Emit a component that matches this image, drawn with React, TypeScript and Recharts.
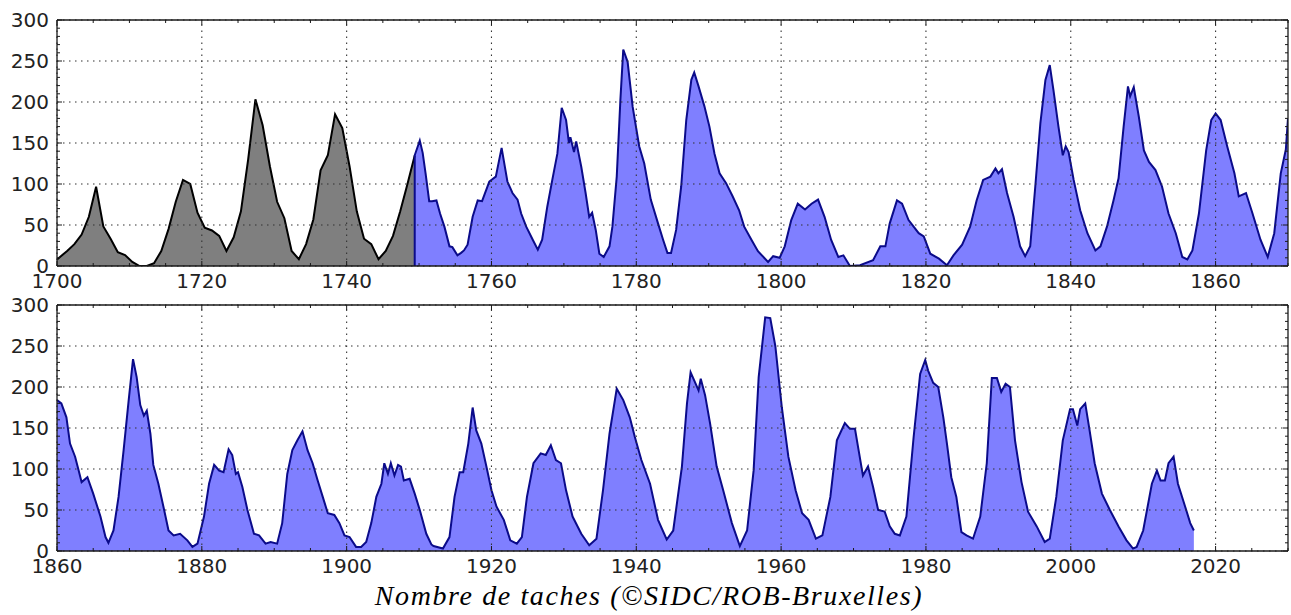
import { AreaChart, Area, XAxis, YAxis, ReferenceLine } from "recharts";

type Pt = [number, number];

// yearly means 1700-1749 (grey part), plotted mid-year like the source
const yearlyMeans: Pt[] = [
  [1700, 8], [1701.4, 18.3], [1702.4, 26.7], [1703.4, 38.3], [1704.4, 60], [1705.4, 96.7],
  [1706.4, 48.3], [1707.4, 33.3], [1708.4, 16.7], [1709.4, 13.3], [1710.4, 5], [1711.4, 0],
  [1712.4, 0], [1713.4, 3.3], [1714.4, 18.3], [1715.4, 45], [1716.4, 78.3], [1717.4, 105],
  [1718.4, 100], [1719.4, 65], [1720.4, 46.7], [1721.4, 43.3], [1722.4, 36.7], [1723.4, 18.3],
  [1724.4, 35], [1725.4, 66.7], [1726.4, 130], [1727.4, 203.3], [1728.4, 171.7], [1729.4, 121.7],
  [1730.4, 78.3], [1731.4, 58.3], [1732.4, 18.3], [1733.4, 8.3], [1734.4, 26.7], [1735.4, 56.7],
  [1736.4, 116.7], [1737.4, 135], [1738.4, 185], [1739.4, 168.3], [1740.4, 121.7], [1741.4, 66.7],
  [1742.4, 33.3], [1743.4, 26.7], [1744.4, 8.3], [1745.4, 18.3], [1746.4, 36.7], [1747.4, 66.7],
  [1748.4, 100], [1749.4, 134.8],
];

// smoothed monthly values, upper panel (1749-1870)
const smoothedTop: Pt[] = [
  [1749.4, 0], [1749.4, 135], [1750.1, 153], [1750.5, 138], [1750.9, 113], [1751.4, 79],
  [1751.8, 79], [1752.4, 80], [1752.9, 64], [1753.5, 48], [1754.2, 24], [1754.6, 23],
  [1755.3, 13], [1755.8, 16], [1756.2, 19], [1756.7, 26], [1757.4, 60], [1758.1, 80],
  [1758.7, 79], [1759.7, 103], [1760.6, 109], [1761.4, 144], [1762.2, 103], [1762.9, 89],
  [1763.6, 81], [1764.1, 64], [1764.8, 48], [1765.7, 32], [1766.4, 20], [1767.0, 32],
  [1767.7, 72], [1768.4, 105], [1769.1, 137], [1769.7, 193], [1770.3, 178], [1770.7, 150],
  [1770.9, 157], [1771.4, 139], [1771.7, 152], [1772.4, 121], [1773.0, 89], [1773.5, 60],
  [1773.9, 65], [1774.4, 44], [1774.9, 15], [1775.5, 11], [1776.3, 24], [1776.7, 48],
  [1777.3, 109], [1777.8, 202], [1778.2, 264], [1778.8, 249], [1779.5, 194], [1780.4, 146],
  [1781.1, 125], [1782.0, 81], [1783.0, 52], [1783.7, 32], [1784.3, 16], [1784.8, 16],
  [1785.5, 44], [1786.2, 97], [1786.9, 178], [1787.6, 227], [1788.0, 236], [1788.6, 219],
  [1789.4, 195], [1790.1, 170], [1790.8, 137], [1791.5, 113], [1792.4, 101], [1793.3, 85],
  [1794.2, 68], [1794.9, 48], [1795.9, 32], [1796.8, 18], [1798.2, 5], [1798.9, 12],
  [1799.8, 10], [1800.5, 24], [1801.4, 56], [1802.3, 76], [1803.3, 69], [1804.2, 76],
  [1805.1, 81], [1806.0, 60], [1806.9, 32], [1807.9, 11], [1808.6, 13], [1809.5, 0],
  [1810.9, 1], [1812.7, 7], [1813.7, 24], [1814.4, 24], [1815.0, 52], [1816.0, 80],
  [1816.7, 76], [1817.6, 56], [1819.0, 40], [1819.7, 36], [1820.6, 15], [1821.8, 9],
  [1822.9, 1], [1823.8, 13], [1825.0, 26], [1826.1, 48], [1827.0, 80], [1827.9, 105],
  [1828.9, 109], [1829.6, 119], [1830.0, 113], [1830.5, 118], [1831.2, 89], [1832.1, 60],
  [1833.0, 24], [1833.7, 12], [1834.4, 24], [1835.1, 97], [1835.8, 174], [1836.5, 227],
  [1837.1, 245], [1837.6, 215], [1838.3, 170], [1838.9, 135], [1839.3, 146], [1839.7, 139],
  [1840.4, 105], [1841.3, 68], [1842.3, 40], [1843.4, 19], [1844.1, 24], [1845.0, 48],
  [1845.9, 80], [1846.6, 107], [1847.3, 170], [1847.9, 219], [1848.2, 207], [1848.7, 218],
  [1849.4, 182], [1850.1, 141], [1850.8, 127], [1851.7, 117], [1852.6, 97], [1853.5, 64],
  [1854.5, 40], [1855.4, 11], [1856.1, 8], [1856.8, 19], [1857.7, 64], [1858.7, 141],
  [1859.4, 178], [1860.0, 186], [1860.7, 178], [1861.6, 146], [1862.6, 113], [1863.2, 85],
  [1864.2, 89], [1865.1, 64], [1866.2, 32], [1867.2, 11], [1868.1, 40], [1869.0, 113],
  [1869.7, 142], [1870.0, 180],
];

// smoothed monthly values, lower panel (1860-2017)
const smoothedBottom: Pt[] = [
  [1860.0, 184], [1860.6, 180], [1861.3, 163], [1861.8, 131], [1862.5, 115], [1863.0, 98],
  [1863.4, 84], [1864.2, 90], [1865.0, 70], [1866.0, 42], [1866.7, 17], [1867.1, 10],
  [1867.8, 25], [1868.5, 66], [1869.2, 123], [1869.9, 184], [1870.5, 234], [1871.0, 212],
  [1871.5, 178], [1872.0, 165], [1872.4, 171], [1872.9, 143], [1873.3, 105], [1874.0, 82],
  [1874.7, 54], [1875.4, 25], [1876.1, 19], [1877.0, 21], [1878.0, 13], [1878.7, 5],
  [1879.4, 9], [1880.3, 42], [1881.0, 82], [1881.7, 105], [1882.4, 98], [1883.0, 96],
  [1883.7, 124], [1884.2, 117], [1884.7, 94], [1885.0, 96], [1885.6, 78], [1886.3, 50],
  [1887.2, 21], [1887.9, 19], [1888.8, 9], [1889.5, 11], [1890.4, 9], [1891.1, 34],
  [1891.8, 94], [1892.5, 123], [1893.2, 135], [1893.9, 146], [1894.6, 123], [1895.3, 107],
  [1896.0, 86], [1896.7, 66], [1897.4, 46], [1898.3, 44], [1899.0, 34], [1899.7, 19],
  [1900.4, 17], [1901.3, 5], [1902.0, 5], [1902.7, 11], [1903.4, 34], [1904.1, 66],
  [1904.8, 82], [1905.2, 107], [1905.7, 94], [1906.1, 107], [1906.6, 92], [1907.1, 105],
  [1907.5, 103], [1907.9, 86], [1908.7, 88], [1909.4, 70], [1910.1, 50], [1911.0, 21],
  [1911.7, 8], [1912.0, 6], [1913.3, 3], [1914.2, 17], [1914.9, 66], [1915.6, 96],
  [1916.1, 96], [1916.8, 131], [1917.4, 175], [1917.9, 147], [1918.6, 131], [1919.3, 103],
  [1920.0, 74], [1920.7, 54], [1921.7, 38], [1922.6, 13], [1923.5, 9], [1924.2, 17],
  [1924.9, 66], [1925.8, 107], [1926.8, 119], [1927.5, 117], [1928.2, 129], [1928.9, 111],
  [1929.6, 107], [1930.3, 74], [1931.2, 42], [1932.4, 21], [1933.5, 7], [1934.5, 15],
  [1935.4, 74], [1936.3, 143], [1937.3, 198], [1938.2, 184], [1939.1, 163], [1939.8, 139],
  [1940.7, 111], [1941.9, 82], [1943.0, 38], [1944.2, 14], [1945.1, 25], [1946.3, 103],
  [1947.0, 180], [1947.5, 218], [1948.1, 206], [1948.6, 196], [1948.9, 210], [1949.5, 190],
  [1950.2, 155], [1951.1, 103], [1952.0, 74], [1953.2, 34], [1954.3, 6], [1955.3, 25],
  [1956.2, 98], [1956.9, 212], [1957.8, 285], [1958.5, 284], [1959.2, 250], [1960.1, 175],
  [1961.0, 115], [1962.0, 74], [1962.9, 46], [1963.8, 38], [1964.8, 15], [1965.7, 19],
  [1966.8, 66], [1967.7, 135], [1968.8, 156], [1969.5, 149], [1970.2, 149], [1970.7, 123],
  [1971.3, 92], [1972.0, 103], [1972.7, 78], [1973.4, 50], [1974.3, 48], [1975.0, 30],
  [1975.7, 21], [1976.4, 19], [1977.3, 42], [1978.3, 139], [1979.2, 216], [1979.9, 233],
  [1980.3, 220], [1981.0, 205], [1981.7, 200], [1982.4, 163], [1982.9, 131], [1983.5, 90],
  [1984.2, 66], [1984.9, 23], [1985.6, 19], [1986.5, 15], [1987.5, 42], [1988.4, 107],
  [1989.1, 211], [1989.8, 211], [1990.4, 194], [1991.0, 204], [1991.6, 200], [1992.3, 135],
  [1993.2, 84], [1994.1, 48], [1995.3, 30], [1996.4, 11], [1997.1, 15], [1998.0, 66],
  [1998.9, 135], [1999.9, 173], [2000.3, 173], [2000.9, 153], [2001.3, 173], [2002.0, 180],
  [2002.6, 147], [2003.3, 107], [2004.3, 70], [2005.4, 50], [2006.6, 30], [2007.7, 13],
  [2008.6, 3], [2009.1, 5], [2010.0, 25], [2011.2, 82], [2011.9, 98], [2012.4, 86],
  [2013.0, 86], [2013.5, 107], [2014.2, 115], [2014.8, 82], [2015.8, 54], [2016.5, 34],
  [2017.0, 25],
];

const topYearTicks = [1700, 1720, 1740, 1760, 1780, 1800, 1820, 1840, 1860];
const bottomYearTicks = [1860, 1880, 1900, 1920, 1940, 1960, 1980, 2000, 2020];
const valueTicks = [0, 50, 100, 150, 200, 250, 300];
const caption = "Nombre de taches (©SIDC/ROB-Bruxelles)";

const W = 1291;
const PLOT_W = 1231;
const PLOT_H = 246;
const INK = "#1a1a1a";
const BLUE_LINE = "#0b0b8a";
const GRID = { stroke: "#333", strokeDasharray: "1.5 4.5", strokeWidth: 1.1 };

const range = (a: number, b: number, step: number) => {
  const out: number[] = [];
  for (let v = a; v <= b; v += step) out.push(v);
  return out;
};

const toRows = (pts: Pt[]) => pts.map(([x, v]) => ({ x, v }));

const labelFont = { fontSize: 20, fill: "#222", fontFamily: "DejaVu Sans" };
const spine = { stroke: INK, strokeWidth: 1.3 };

// every 5 years: inward tick on bottom + top spine, label on 20-year marks
const yearTick = (p: any) => {
  const v = p.payload.value;
  const major = v % 20 === 0;
  const len = major ? 5 : 3;
  const base = p.y - 8;
  return (
    <g>
      <line x1={p.x} x2={p.x} y1={base} y2={base - len} stroke={INK} />
      <line x1={p.x} x2={p.x} y1={base - PLOT_H} y2={base - PLOT_H + len} stroke={INK} />
      {major ? (
        <text x={p.x} y={p.y} dy="0.71em" textAnchor="middle" {...labelFont}>
          {v}
        </text>
      ) : null}
    </g>
  );
};

// every 10 units: inward tick on left + right spine, label on 50 marks
const valueTick = (p: any) => {
  const v = p.payload.value;
  const major = v % 50 === 0;
  const len = major ? 5 : 3;
  const base = p.x + 8;
  return (
    <g>
      <line x1={base} x2={base + len} y1={p.y} y2={p.y} stroke={INK} />
      <line x1={base + PLOT_W} x2={base + PLOT_W - len} y1={p.y} y2={p.y} stroke={INK} />
      {major ? (
        <text x={p.x} y={p.y} dy="0.355em" textAnchor="end" {...labelFont}>
          {v}
        </text>
      ) : null}
    </g>
  );
};

type SeriesDef = { pts: Pt[]; stroke: string; fill: string; width: number };

function Panel({
  from,
  to,
  yearTicks,
  series,
  top,
}: {
  from: number;
  to: number;
  yearTicks: number[];
  series: SeriesDef[];
  top: number;
}) {
  return (
    <div style={{ position: "absolute", left: 0, top }}>
      <AreaChart width={W} height={300} margin={{ top: 20, right: 3, bottom: 0, left: 0 }}>
        {yearTicks.map((y) => (
          <ReferenceLine key={"gx" + y} x={y} {...GRID} />
        ))}
        {valueTicks.map((v) => (
          <ReferenceLine key={"gy" + v} y={v} {...GRID} />
        ))}
        <XAxis
          dataKey="x"
          type="number"
          domain={[from, to]}
          ticks={range(from, to, 5)}
          interval={0}
          allowDataOverflow
          height={34}
          tickSize={0}
          tickMargin={8}
          tickLine={false}
          axisLine={spine}
          tick={yearTick}
        />
        <YAxis
          type="number"
          domain={[0, 300]}
          ticks={range(0, 300, 10)}
          interval={0}
          allowDataOverflow
          width={57}
          tickSize={0}
          tickMargin={8}
          tickLine={false}
          axisLine={spine}
          tick={valueTick}
        />
        {series.map((s, i) => (
          <Area
            key={i}
            data={toRows(s.pts)}
            dataKey="v"
            type="linear"
            stroke={s.stroke}
            strokeWidth={s.width}
            fill={s.fill}
            fillOpacity={0.5}
            dot={false}
            activeDot={false}
            isAnimationActive={false}
          />
        ))}
        <ReferenceLine y={300} stroke={INK} strokeWidth={1.3} />
        <ReferenceLine x={to} stroke={INK} strokeWidth={1.3} />
      </AreaChart>
    </div>
  );
}

export default function App() {
  return (
    <div style={{ position: "absolute", left: 0, top: 0, width: W, height: 615, background: "#fff" }}>
      <Panel
        from={1700}
        to={1870}
        yearTicks={topYearTicks}
        top={0}
        series={[
          { pts: yearlyMeans, stroke: "#000000", fill: "#000000", width: 2 },
          { pts: smoothedTop, stroke: BLUE_LINE, fill: "#0000ff", width: 2 },
        ]}
      />
      <Panel
        from={1860}
        to={2030}
        yearTicks={bottomYearTicks}
        top={285}
        series={[{ pts: smoothedBottom, stroke: BLUE_LINE, fill: "#0000ff", width: 2 }]}
      />
      <svg width={W} height={45} style={{ position: "absolute", left: 0, top: 570 }}>
        <text
          x={649}
          y={35}
          textAnchor="middle"
          fontFamily="Liberation Serif"
          fontStyle="italic"
          fontSize={28}
          letterSpacing={1.6}
          fill="#000"
        >
          {caption}
        </text>
      </svg>
    </div>
  );
}
